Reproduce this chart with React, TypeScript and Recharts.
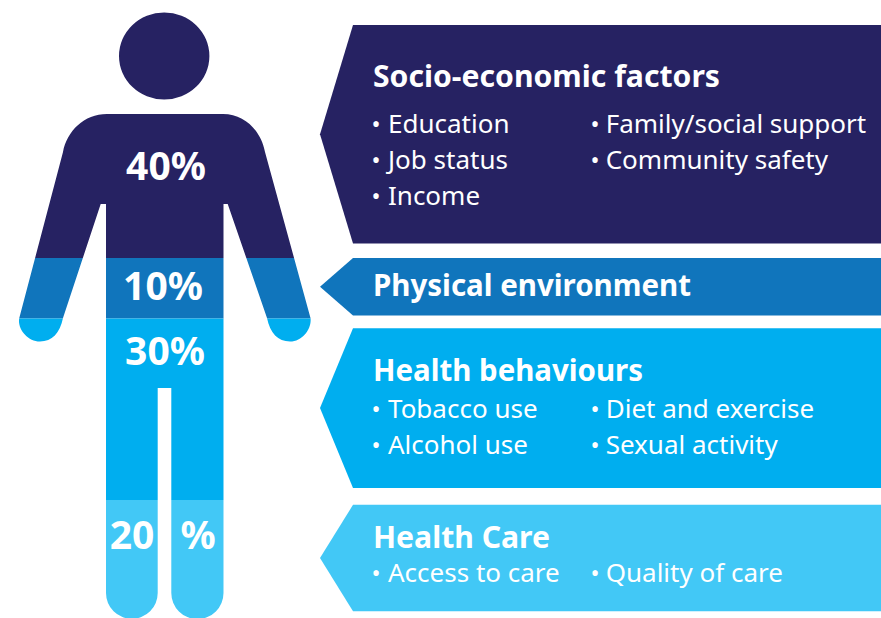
import React from 'react';
import { BarChart, Bar, XAxis, YAxis } from 'recharts';

// share of health outcomes, top to bottom of the figure
const shares = [40, 10, 30, 20];
const shareLabels = [['40%'], ['10%'], ['30%'], ['20', '%']];
const colors = ['#262262', '#1075BC', '#00AEEF', '#42C8F6'];

const panelGaps = [1.5, 2.4, 2.1, 2.8];
const panelHeights = [36.1, 9.5, 26.4, 17.6];
const panelTitles = ['Socio-economic factors', 'Physical environment', 'Health behaviours', 'Health Care'];
const itemsLeft = [['Education', 'Job status', 'Income'], [], ['Tobacco use', 'Alcohol use'], ['Access to care']];
const itemsRight = [['Family/social support', 'Community safety'], [], ['Diet and exercise', 'Sexual activity'], ['Quality of care']];

const row: Record<string, any> = { name: 'figure' };
shares.forEach((v, i) => { row[`share${i}`] = v; });
panelHeights.forEach((v, i) => {
  row[`gap${i}`] = panelGaps[i];
  row[`panel${i}`] = v;
});
const tableData = [row];

const FONT = '"Noto Sans", sans-serif';

// figure outline in chart pixels
const BODY_PATH = [
  'M119 56 a45.2 43.6 0 1 0 90.4 0 a45.2 43.6 0 1 0 -90.4 0 Z',
  'M107 114 H223 C245 114 261 131 265 152 L310.5 318 C312 328 303 341.5 290 341.5 C278 341.5 270 333 267 318',
  'L227.7 204 H223.5 V593 A26.1 26.1 0 0 1 171.3 593 V388 H157.7 V593 A25.85 25.85 0 0 1 106 593 V204 H100.7',
  'L63 318 C60 333 52 341.5 40 341.5 C27 341.5 17 328 19.3 318 L63 152 C67 131 84 114 107 114 Z',
].join(' ');

const labelBaseline = [164, 42, 46, 49];
const labelCenters = [[166], [163], [165], [132, 198]];
const titleBaseline = [62, 38, 53, 43];
const titleWidths = [347, 318, 270, 177];
const itemBaseline = [108, 0, 90, 77];
const ROW_STEP = 36;

// the y axis is reversed, so bars arrive with a negative height
const box = (p: any) => ({ x: p.x, y: Math.min(p.y, p.y + p.height), width: p.width, height: Math.abs(p.height) });

const BodyBand = (props: any) => {
  const { x, y, width, height } = box(props);
  const { idx } = props;
  // first band reaches above 0 so the top of the head is covered
  const top = idx === 0 ? y - 6 : y;
  return (
    <g>
      <rect x={x} y={top} width={width} height={height + (y - top)} fill={colors[idx]} clipPath="url(#bodyClip)" />
      {shareLabels[idx].map((t, k) => (
        <text key={t} x={labelCenters[idx][k]} y={y + labelBaseline[idx]} textAnchor="middle" fill="#fff"
          fontFamily={FONT} fontWeight={700} fontSize={39}>{t}</text>
      ))}
    </g>
  );
};

const Panel = (props: any) => {
  const { x, y, width, height } = box(props);
  const { idx } = props;
  const right = x + width;
  const mid = y + height / 2;
  const bottom = y + height;
  const shoulder = x + 33;
  const item = (t: string, r: number, bx: number, tx: number) => (
    <g key={t}>
      <text x={bx} y={y + itemBaseline[idx] + r * ROW_STEP} fill="#fff" fontFamily={FONT} fontSize={24}>•</text>
      <text x={tx} y={y + itemBaseline[idx] + r * ROW_STEP} fill="#fff" fontFamily={FONT} fontSize={26}>{t}</text>
    </g>
  );
  return (
    <g>
      <polygon points={`${x},${mid} ${shoulder},${y} ${right},${y} ${right},${bottom} ${shoulder},${bottom}`} fill={colors[idx]} />
      <text x={x + 53} y={y + titleBaseline[idx]} fill="#fff" fontFamily={FONT} fontWeight={700} fontSize={30}
        textLength={titleWidths[idx]} lengthAdjust="spacingAndGlyphs">
        {panelTitles[idx]}
      </text>
      {itemsLeft[idx].map((t, r) => item(t, r, x + 51.4, x + 68))}
      {itemsRight[idx].map((t, r) => item(t, r, x + 270.4, x + 285.7))}
    </g>
  );
};

export default function App() {
  return (
    <div style={{ position: 'absolute', left: 0, top: 0, width: 881, height: 618, overflow: 'hidden', background: '#fff' }}>
      <BarChart width={881} height={621} data={tableData} barCategoryGap={0}
        margin={{ top: 16, right: 0, bottom: 0, left: 0 }}>
        <defs>
          <clipPath id="bodyClip">
            <path d={BODY_PATH} />
          </clipPath>
        </defs>
        <XAxis xAxisId="body" dataKey="name" hide padding={{ left: 18, right: 569 }} />
        <XAxis xAxisId="panel" dataKey="name" hide padding={{ left: 320, right: 0 }} />
        <YAxis hide reversed domain={[0, 100]} />
        {shares.map((_, i) => (
          <Bar key={`share${i}`} xAxisId="body" dataKey={`share${i}`} stackId="body" isAnimationActive={false}
            shape={(p: any) => <BodyBand {...p} idx={i} />} />
        ))}
        {panelHeights.flatMap((_, i) => [
          <Bar key={`gap${i}`} xAxisId="panel" dataKey={`gap${i}`} stackId="panel" fill="none" isAnimationActive={false} />,
          <Bar key={`panel${i}`} xAxisId="panel" dataKey={`panel${i}`} stackId="panel" isAnimationActive={false}
            shape={(p: any) => <Panel {...p} idx={i} />} />,
        ])}
      </BarChart>
    </div>
  );
}
